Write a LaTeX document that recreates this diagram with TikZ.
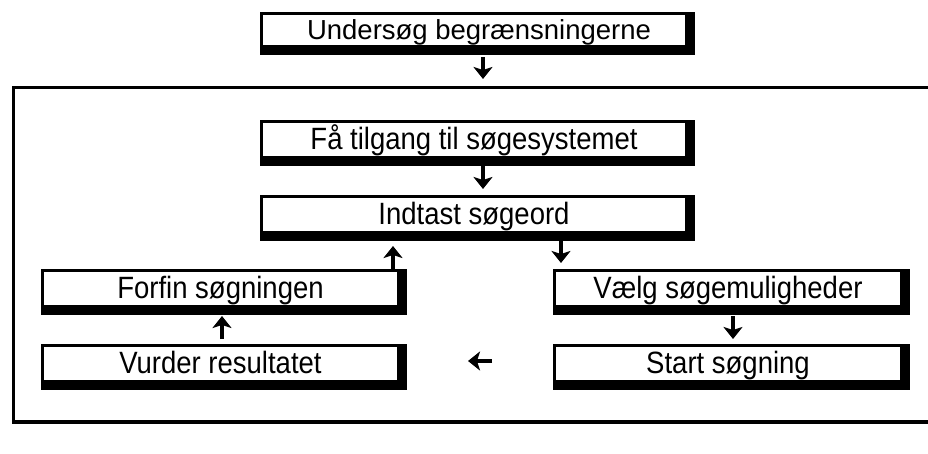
\documentclass[tikz,border=0pt]{standalone}
\usepackage{fontspec}
\setmainfont{Liberation Sans}
\usetikzlibrary{arrows.meta,backgrounds}
\newcommand{\tallword}[1]{\scalebox{1}[1.12]{\vphantom{Åg}#1}}
\begin{document}
\begin{tikzpicture}[x=1pt,y=-1pt,
  stepbox/.style={draw=none, fill=white, inner sep=0pt,
    minimum height=30pt, font=\fontsize{27.5}{30}\selectfont},
  wide/.style={minimum width=422pt},
  side/.style={minimum width=353pt},
  flow/.style={line width=4.5pt, -{Stealth[width=19pt,length=12pt,inset=3pt]}},
  frame/.style={line width=3pt}]
\useasboundingbox (0,0) rectangle (928,454);
\clip (0,0) rectangle (928,454);

% outer frame, open to the right
\draw[frame] (940,87.5) -- (13.5,87.5) -- (13.5,422);
\draw[line width=4pt] (12,422) -- (940,422);

% white faces of the boxes
\node[stepbox, wide] (check)  at (474,30)    {\hspace{10pt}\vphantom{Åg}Undersøg begrænsningerne};
\node[stepbox, wide] (access) at (474,139.5) {\tallword{Få tilgang til søgesystemet}};
\node[stepbox, wide] (enter)  at (474,214.5) {\tallword{Indtast søgeord}};
\node[stepbox, side] (refine) at (220.5,288.5) {\tallword{Forfin søgningen}};
\node[stepbox, side] (assess) at (220.5,363.5) {\tallword{Vurder resultatet}};
\node[stepbox, minimum width=344pt] (choose) at (728,288.5) {\tallword{Vælg søgemuligheder}};
\node[stepbox, minimum width=344pt] (start)  at (728,363.5) {\tallword{Start søgning}};

% thin border on top/left, heavy shadow on bottom/right
\begin{scope}[on background layer]
  \foreach \b in {check,access,enter,refine,assess,choose,start}
    \fill[black] ([shift={(-3,-3)}]\b.north west) rectangle ([shift={(10,9.5)}]\b.south east);
\end{scope}

% arrow ends
\coordinate (a1s) at (483,57);  \coordinate (a1e) at (483,79);
\coordinate (a2s) at (483,166); \coordinate (a2e) at (483,189);
\coordinate (a3s) at (393,269); \coordinate (a3e) at (393,246);
\coordinate (a4s) at (561,240); \coordinate (a4e) at (561,263);
\coordinate (a5s) at (222,339); \coordinate (a5e) at (222,316);
\coordinate (a6s) at (733,316); \coordinate (a6e) at (733,339);
\coordinate (a7s) at (492,361); \coordinate (a7e) at (468,361);

\draw[flow] (a1s) -- (a1e);
\draw[flow] (a2s) -- (a2e);
\draw[flow] (a3s) -- (a3e);
\draw[flow] (a4s) -- (a4e);
\draw[flow] (a5s) -- (a5e);
\draw[flow] (a6s) -- (a6e);
\draw[flow] (a7s) -- (a7e);
\end{tikzpicture}
\end{document}
